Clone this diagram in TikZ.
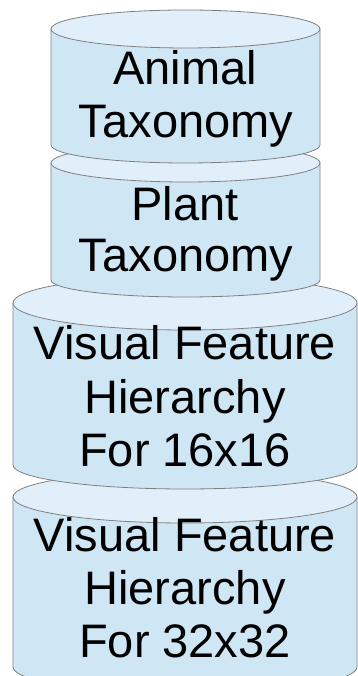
\documentclass[tikz,border=0pt]{standalone}
\usepackage{fontspec}
\setmainfont{Liberation Sans}
\definecolor{bodyblue}{RGB}{207,230,245}
\definecolor{topblue}{RGB}{224,239,249}
\definecolor{edgegray}{RGB}{128,128,128}
\begin{document}
\begin{tikzpicture}[x=1pt,y=1pt,
  cylbody/.style={fill=bodyblue,draw=edgegray,line width=0.8pt},
  cyltop/.style={fill=topblue,draw=edgegray,line width=0.8pt},
  lbl/.style={inner sep=0pt,anchor=base,font=\fontsize{47}{53}\selectfont}]
\useasboundingbox (0,0) rectangle (357,676);
% cylinder 4 (bottom)
\draw[cylbody] (13,179) -- (13,9) arc[start angle=180,end angle=360,x radius=172,y radius=26] -- (357,179) -- cycle;
\draw[cyltop] (185,179) ellipse[x radius=172,y radius=26];
% cylinder 3
\draw[cylbody] (13,373) -- (13,211) arc[start angle=180,end angle=360,x radius=172,y radius=24] -- (357,373) -- cycle;
\draw[cyltop] (185,373) ellipse[x radius=172,y radius=27];
% cylinder 2
\draw[cylbody] (51,513) -- (51,396) arc[start angle=180,end angle=360,x radius=134.5,y radius=17] -- (320,513) -- cycle;
\draw[cyltop] (185.5,513) ellipse[x radius=134.5,y radius=19];
% cylinder 1 (top)
\draw[cylbody] (51,647) -- (51,531) arc[start angle=180,end angle=360,x radius=134.5,y radius=18] -- (320,647) -- cycle;
\draw[cyltop] (185.5,647) ellipse[x radius=134.5,y radius=19];
% labels
\node[lbl] (a1) at (185,591) {Animal};
\node[lbl] (a2) at (186,538) {Taxonomy};
\node[lbl] (p1) at (185,455) {Plant};
\node[lbl] (p2) at (186,404) {Taxonomy};
\node[lbl] (v1) at (185,316) {Visual Feature};
\node[lbl] (v2) at (185,262) {Hierarchy};
\node[lbl] (v3) at (185,209) {For 16x16};
\node[lbl] (w1) at (185,124) {Visual Feature};
\node[lbl] (w2) at (185,71) {Hierarchy};
\node[lbl] (w3) at (185,18) {For 32x32};
\end{tikzpicture}
\end{document}
